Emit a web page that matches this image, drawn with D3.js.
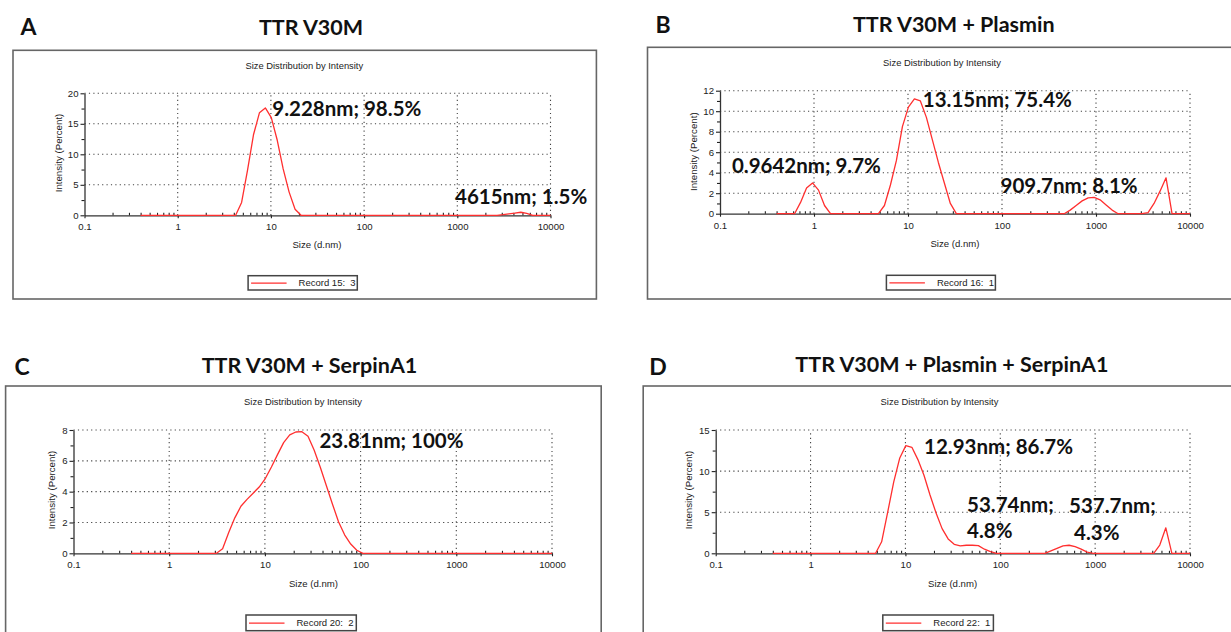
<!DOCTYPE html>
<html>
<head>
<meta charset="utf-8">
<script src="https://cdn.jsdelivr.net/npm/d3@7"></script>
<style>
  html, body { margin: 0; padding: 0; background: #fff; }
  svg { display: block; }
</style>
</head>
<body>
<svg id="fig" width="1231" height="632"></svg>
<script>
// Size classes (d.nm) of the DLS size distribution, 70 log-spaced bins
const sizeBins = [
  0.4, 0.4632, 0.5365, 0.6213, 0.7195, 0.8332, 0.9649, 1.117, 1.294, 1.499,
  1.736, 2.010, 2.328, 2.696, 3.122, 3.615, 4.187, 4.849, 5.615, 6.503,
  7.531, 8.721, 10.10, 11.70, 13.54, 15.69, 18.17, 21.04, 24.36, 28.21,
  32.67, 37.84, 43.82, 50.75, 58.77, 68.06, 78.82, 91.28, 105.7, 122.4,
  141.8, 164.2, 190.1, 220.2, 255.0, 295.3, 342.0, 396.1, 458.7, 531.2,
  615.1, 712.4, 825.0, 955.4, 1106, 1281, 1484, 1718, 1990, 2305,
  2669, 3091, 3580, 4145, 4801, 5560, 6439, 7456, 8635, 10000
];

// Intensity (%) per size class
const intensityA = [
  0, 0, 0, 0, 0, 0, 0, 0, 0, 0,
  0, 0, 0, 0, 0, 0, 0, 2.1, 7.4, 13.2,
  16.8, 17.6, 16.0, 12.3, 7.6, 3.8, 1.0, 0, 0, 0,
  0, 0, 0, 0, 0, 0, 0, 0, 0, 0,
  0, 0, 0, 0, 0, 0, 0, 0, 0, 0,
  0, 0, 0, 0, 0, 0, 0, 0, 0, 0,
  0, 0.1, 0.25, 0.35, 0.5, 0.3, 0, 0, 0, 0
];
const intensityB = [
  0, 0, 0, 0, 1.1, 2.5, 3.0, 2.3, 0.8, 0,
  0, 0, 0, 0, 0, 0, 0, 0, 0.8, 2.8,
  5.2, 8.5, 10.4, 11.2, 11.0, 9.4, 7.2, 5.0, 3.0, 1.0,
  0, 0, 0, 0, 0, 0, 0, 0, 0, 0,
  0, 0, 0, 0, 0, 0, 0, 0, 0, 0.35,
  0.8, 1.25, 1.55, 1.6, 1.35, 0.85, 0.35, 0, 0, 0,
  0, 0, 0.1, 1.0, 2.2, 3.5, 0, 0, 0, 0
];
const intensityC = [
  0, 0, 0, 0, 0, 0, 0, 0, 0, 0,
  0, 0, 0, 0, 0, 0.3, 1.35, 2.3, 3.05, 3.5,
  3.9, 4.3, 4.85, 5.6, 6.4, 7.18, 7.68, 7.87, 7.89, 7.6,
  6.7, 5.6, 4.4, 3.2, 2.05, 1.2, 0.6, 0.2, 0, 0,
  0, 0, 0, 0, 0, 0, 0, 0, 0, 0,
  0, 0, 0, 0, 0, 0, 0, 0, 0, 0,
  0, 0, 0, 0, 0, 0, 0, 0, 0, 0
];
const intensityD = [
  0, 0, 0, 0, 0, 0, 0, 0, 0, 0,
  0, 0, 0, 0, 0, 0, 0, 0, 1.4, 5.0,
  8.7, 11.6, 13.1, 12.9, 11.4, 9.5, 7.1, 4.9, 3.0, 1.75,
  1.1, 0.9, 0.98, 0.98, 0.93, 0.5, 0.2, 0, 0, 0,
  0, 0, 0, 0, 0, 0, 0.3, 0.6, 0.9, 0.98,
  0.8, 0.5, 0.15, 0, 0, 0, 0, 0, 0, 0,
  0, 0, 0, 0, 1.0, 3.1, 0, 0, 0, 0
];

const panelLetters = ["A", "B", "C", "D"];
const panelTitles = ["TTR V30M", "TTR V30M + Plasmin", "TTR V30M + SerpinA1", "TTR V30M + Plasmin + SerpinA1"];
const recordLabels = ["Record 15:  3", "Record 16:  1", "Record 20:  2", "Record 22:  1"];
const yTicksA = [0, 5, 10, 15, 20];
const yTicksB = [0, 2, 4, 6, 8, 10, 12];
const yTicksC = [0, 2, 4, 6, 8];
const yTicksD = [0, 5, 10, 15];
const xTickValues = [0.1, 1, 10, 100, 1000, 10000];
const xTickLabels = ["0.1", "1", "10", "100", "1000", "10000"];
const peakNotesA = ["9.228nm; 98.5%", "4615nm; 1.5%"];
const peakNotesB = ["13.15nm; 75.4%", "0.9642nm; 9.7%", "909.7nm; 8.1%"];
const peakNotesC = ["23.81nm; 100%"];
const peakNotesD = ["12.93nm; 86.7%", "53.74nm;", "4.8%", "537.7nm;", "4.3%"];

const chartTitle = "Size Distribution by Intensity";
const xAxisTitle = "Size (d.nm)";
const yAxisTitle = "Intensity (Percent)";

// Page layout of the four panels
const layout = [
  { box: [13, 50.3, 596.4, 299], letter: [28.5, 34.5], title: [311, 35], inner: [304.3, 68.5],
    plot: [84.5, 550.5, 93.3, 215.3], xTitle: [317, 247.5], yTitle: [58.4, 153],
    legend: [248.1, 275.7, 109.2, 14.3],
    notes: [[272.3, 116], [455, 204]] },
  { box: [647.5, 47.3, 1240, 299], letter: [663, 33.3], title: [953.8, 31.5], inner: [942, 65.5],
    plot: [720, 1190, 90.7, 213.7], xTitle: [955, 246.5], yTitle: [693.4, 151.7],
    legend: [886.4, 275.3, 109, 14.7],
    notes: [[922.8, 106.7], [731.9, 173.3], [1000.5, 192.7]] },
  { box: [5.6, 386, 601.2, 650], letter: [22, 375], title: [309.5, 372.7], inner: [303, 404.5],
    plot: [73.5, 552, 430, 553.3], xTitle: [313.5, 586.5], yTitle: [51.6, 490],
    legend: [246, 615, 110.3, 15.7],
    notes: [[319.4, 448.3]] },
  { box: [643.2, 386, 1240, 650], letter: [658, 375], title: [951.9, 371.7], inner: [939.5, 404.5],
    plot: [715.7, 1190, 430, 553.3], xTitle: [952.6, 586.5], yTitle: [688.7, 490],
    legend: [882.8, 615, 110.6, 15.7],
    notes: [[924, 454], [967, 511.7], [967, 538.3], [1069, 513.3], [1074, 540]] }
];

const series = [intensityA, intensityB, intensityC, intensityD];
const yTickSets = [yTicksA, yTicksB, yTicksC, yTicksD];
const noteSets = [peakNotesA, peakNotesB, peakNotesC, peakNotesD];

const BOLD = "Lato, 'Open Sans', sans-serif";
const SMALL = "'Liberation Sans', Arial, sans-serif";
const RED = "#ff2f2f";

const svg = d3.select("#fig");

layout.forEach((L, i) => {
  const g = svg.append("g");
  const [bx0, by0, bx1, by1] = L.box;

  // panel frame
  g.append("rect")
    .attr("x", bx0).attr("y", by0)
    .attr("width", bx1 - bx0).attr("height", by1 - by0)
    .attr("fill", "#fff").attr("stroke", "#666").attr("stroke-width", 1.6);

  // panel letter and heading
  g.append("text").text(panelLetters[i])
    .attr("x", L.letter[0]).attr("y", L.letter[1])
    .attr("text-anchor", "middle")
    .style("font-family", BOLD).style("font-weight", 700).style("font-size", "23px")
    .attr("fill", "#111");
  g.append("text").text(panelTitles[i])
    .attr("x", L.title[0]).attr("y", L.title[1])
    .attr("text-anchor", "middle")
    .style("font-family", BOLD).style("font-weight", 700).style("font-size", "21.5px")
    .attr("fill", "#111");

  // instrument chart heading
  g.append("text").text(chartTitle)
    .attr("x", L.inner[0]).attr("y", L.inner[1])
    .attr("text-anchor", "middle")
    .style("font-family", SMALL).style("font-size", "9.4px").attr("fill", "#222");

  const [px0, px1, py0, py1] = L.plot;
  const yTicks = yTickSets[i];
  const yMax = d3.max(yTicks);
  const x = d3.scaleLog().domain([0.1, 10000]).range([px0, px1]);
  const y = d3.scaleLinear().domain([0, yMax]).range([py1, py0]);

  // dotted grid
  const grid = g.append("g").attr("stroke", "#444").attr("stroke-width", 1.1)
    .attr("stroke-dasharray", "1.2,3.2");
  xTickValues.slice(1).forEach(v => {
    grid.append("line").attr("x1", x(v)).attr("x2", x(v)).attr("y1", y(0)).attr("y2", y(yMax));
  });
  yTicks.slice(1).forEach(v => {
    grid.append("line").attr("x1", x(0.1)).attr("x2", x(10000)).attr("y1", y(v)).attr("y2", y(v));
  });

  // x axis: decade ticks with labels, minor ticks between
  const minorX = [];
  xTickValues.slice(0, -1).forEach(d => { for (let k = 2; k <= 9; k++) minorX.push(d * k); });
  const xAxis = d3.axisBottom(x).tickValues(xTickValues)
    .tickFormat((d, j) => xTickLabels[j]).tickSizeInner(3).tickSizeOuter(0).tickPadding(5);
  g.append("g").attr("transform", `translate(0,${y(0)})`).call(xAxis);
  g.append("g").attr("transform", `translate(0,${y(0)})`)
    .call(d3.axisBottom(x).tickValues(minorX).tickFormat("").tickSizeInner(-2.5).tickSizeOuter(0))
    .call(s => s.select(".domain").remove());

  // y axis: labelled ticks with half-step minor ticks
  const step = yTicks[1] - yTicks[0];
  const minorY = yTicks.slice(0, -1).map(v => v + step / 2);
  const yAxis = d3.axisLeft(y).tickValues(yTicks).tickSizeInner(4).tickSizeOuter(0).tickPadding(2);
  g.append("g").attr("transform", `translate(${x(0.1)},0)`).call(yAxis);
  g.append("g").attr("transform", `translate(${x(0.1)},0)`)
    .call(d3.axisLeft(y).tickValues(minorY).tickFormat("").tickSizeInner(3).tickSizeOuter(0))
    .call(s => s.select(".domain").remove());

  g.selectAll(".domain").attr("stroke", "#333").attr("stroke-width", 1.3);
  g.selectAll(".tick line").attr("stroke", "#222").attr("stroke-width", 1.1);
  g.selectAll(".tick text")
    .style("font-family", SMALL).style("font-size", "9.6px").attr("fill", "#222");

  // axis titles
  g.append("text").text(xAxisTitle)
    .attr("x", L.xTitle[0]).attr("y", L.xTitle[1]).attr("text-anchor", "middle")
    .style("font-family", SMALL).style("font-size", "9.6px").attr("fill", "#222");
  g.append("text").text(yAxisTitle)
    .attr("transform", `translate(${L.yTitle[0] + 3.5},${L.yTitle[1]}) rotate(-90)`)
    .attr("text-anchor", "middle")
    .style("font-family", SMALL).style("font-size", "9.7px").attr("fill", "#222");

  // size distribution curve
  const line = d3.line().x((d, j) => x(sizeBins[j])).y(d => y(d));
  g.append("path").datum(series[i])
    .attr("d", line).attr("fill", "none")
    .attr("stroke", RED).attr("stroke-width", 1.3).attr("stroke-linejoin", "round");

  // peak annotations
  noteSets[i].forEach((t, j) => {
    g.append("text").text(t)
      .attr("x", L.notes[j][0]).attr("y", L.notes[j][1])
      .style("font-family", BOLD).style("font-weight", 700).style("font-size", "20.5px")
      .attr("fill", "#111");
  });

  // legend
  const [lx, ly, lw, lh] = L.legend;
  g.append("rect").attr("x", lx).attr("y", ly).attr("width", lw).attr("height", lh)
    .attr("fill", "#fff").attr("stroke", "#444").attr("stroke-width", 1.5);
  g.append("line").attr("x1", lx + 3).attr("x2", lx + 38.5)
    .attr("y1", ly + lh / 2 + 0.3).attr("y2", ly + lh / 2 + 0.3)
    .attr("stroke", RED).attr("stroke-width", 1.3);
  g.append("text").text(recordLabels[i])
    .attr("x", lx + 50.5).attr("y", ly + lh / 2 + 3.6)
    .style("white-space", "pre")
    .style("font-family", SMALL).style("font-size", "9.5px").attr("fill", "#222");
});
</script>
</body>
</html>
